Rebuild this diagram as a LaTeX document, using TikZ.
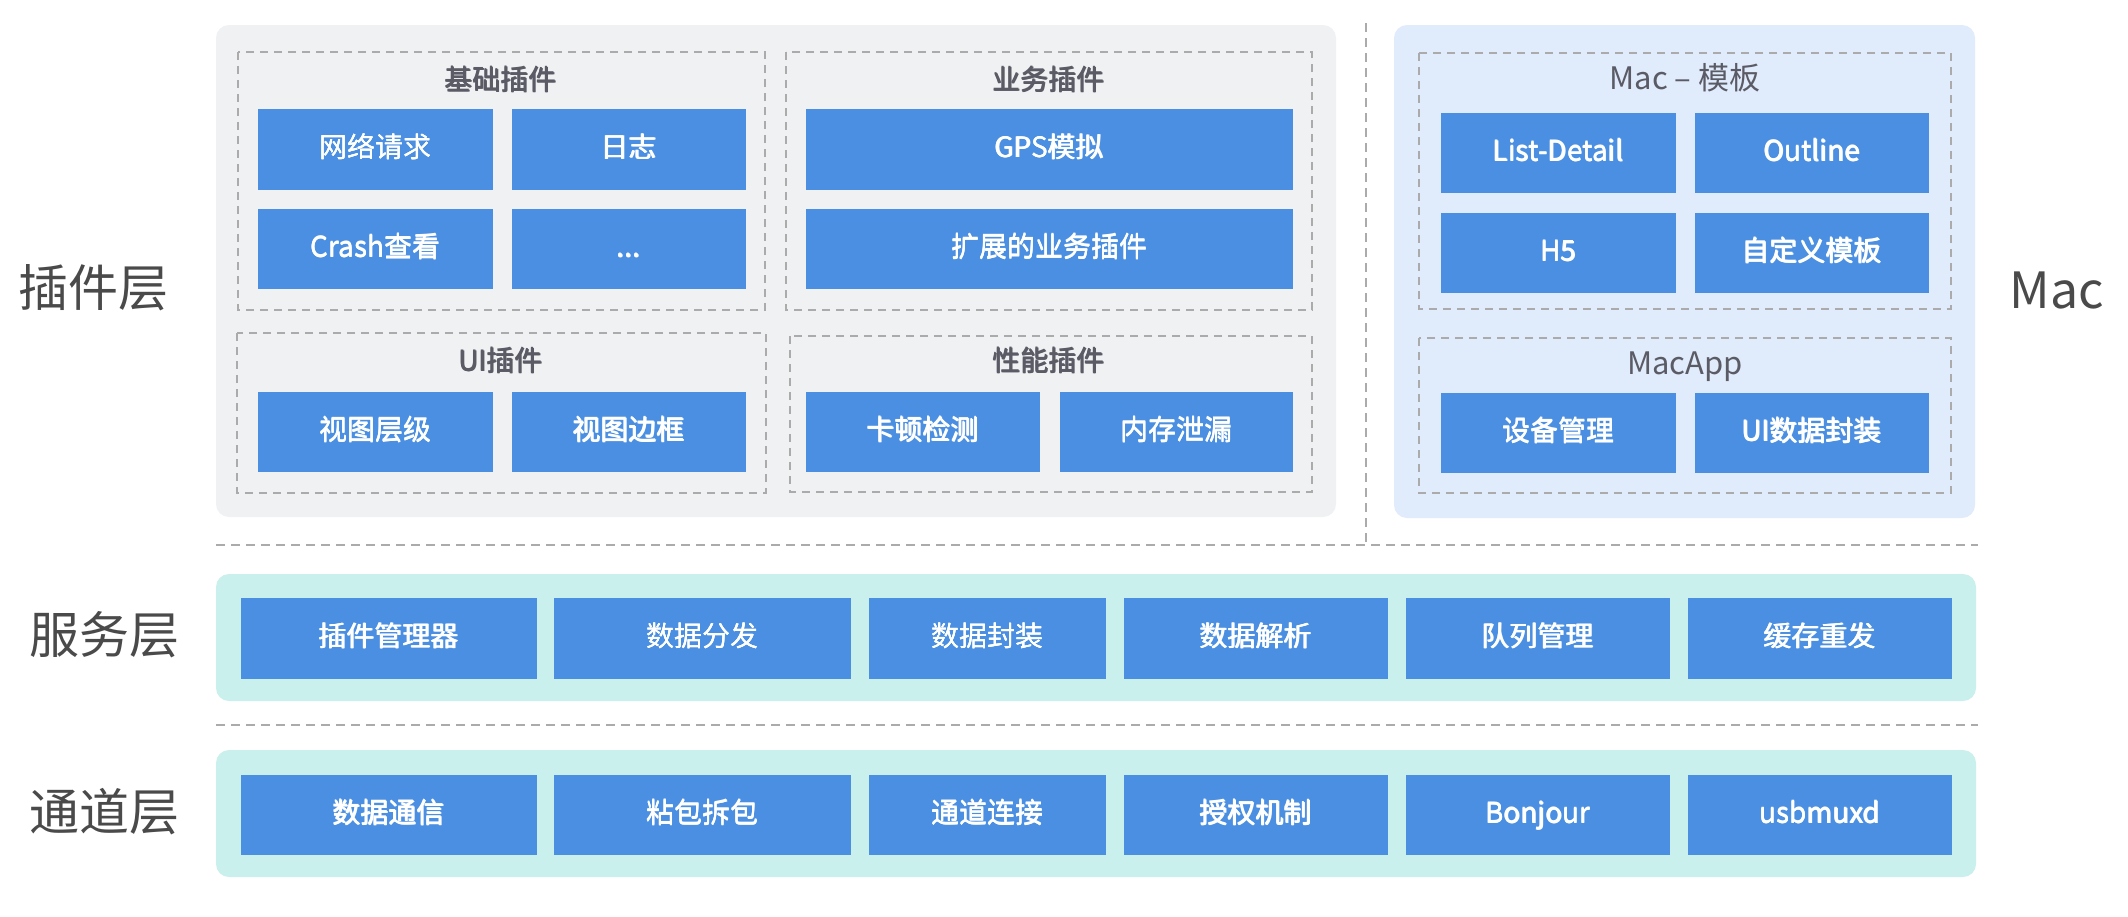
\documentclass[tikz,border=0pt]{standalone}
\usepackage{fontspec}
\setmainfont{Noto Sans CJK SC}
\definecolor{boxblue}{HTML}{4A8FE1}
\definecolor{graypanel}{HTML}{F0F1F3}
\definecolor{bluepanel}{HTML}{E0EBFB}
\definecolor{cyanpanel}{HTML}{C9F0EC}
\definecolor{titlegray}{HTML}{5B5B66}
\definecolor{labelgray}{HTML}{4A4A4A}
\definecolor{dashgray}{HTML}{ABABAB}
\newcommand\fb[1]{\rlap{#1}\rlap{\raisebox{0.4pt}{#1}}\kern0.7pt#1}
\tikzset{
  bluebox/.style={fill=boxblue, draw=none, inner sep=0pt, outer sep=0pt, text=white, text height=21pt, text depth=5pt, font=\fontsize{28}{32}\selectfont},
  grouptitle/.style={text=titlegray, inner sep=0pt, text height=21pt, text depth=5pt, font=\fontsize{28}{32}\selectfont},
  mactitle/.style={text=titlegray, inner sep=0pt, text height=23pt, text depth=6pt, font=\fontsize{31}{36}\selectfont},
  layerlabel/.style={text=labelgray, inner sep=0pt, font=\fontsize{50}{56}\selectfont},
  groupbox/.style={draw=dashgray, line width=1.5pt, dash pattern=on 8pt off 6pt},
  sepline/.style={draw=dashgray, line width=2pt, dash pattern=on 9pt off 6pt},
  panelshape/.style={draw=none, rounded corners=13pt},
}
\newcommand\bx[6]{\node[bluebox, minimum width={#4-#2}, minimum height={#5-#3}] (#1) at ({(#2+#4)/2},{(#3+#5)/2}) {\fb{#6}};}
\begin{document}
\begin{tikzpicture}[x=1pt,y=-1pt]
\useasboundingbox[fill=white] (0,0) rectangle (2128,916);
% panels
\fill[graypanel, panelshape] (216,25) rectangle (1336,517);
\fill[bluepanel, panelshape] (1394,25) rectangle (1975,518);
\fill[cyanpanel, panelshape] (216,574) rectangle (1976,701);
\fill[cyanpanel, panelshape] (216,750) rectangle (1976,877);
% separators
\coordinate (vtop) at (1366,23);
\coordinate (vbot) at (1366,545);
\coordinate (h1l) at (216,545);
\coordinate (h1r) at (1978,545);
\coordinate (h2l) at (216,725);
\coordinate (h2r) at (1978,725);
\draw[sepline] (vtop) -- (vbot);
\draw[sepline] (h1l) -- (h1r);
\draw[sepline] (h2l) -- (h2r);
% group boxes
\draw[groupbox] (238,52) rectangle (765,310);
\draw[groupbox] (786,52) rectangle (1312,310);
\draw[groupbox] (237,333) rectangle (766,493);
\draw[groupbox] (790,336) rectangle (1312,492);
\draw[groupbox] (1419,53) rectangle (1951,309);
\draw[groupbox] (1419,338) rectangle (1951,493);
% group titles
\node[grouptitle] (t1) at (501,82) {\fb{基础插件}};
\node[grouptitle] (t2) at (1049,82) {\fb{业务插件}};
\node[grouptitle] (t3) at (501,363) {\fb{UI插件}};
\node[grouptitle] (t4) at (1049,363) {\fb{性能插件}};
\node[mactitle] (t5) at (1685,81) {Mac – 模板};
\node[mactitle] (t6) at (1685,366) {MacApp};
% plugin boxes
\bx{b1}{258}{109}{493}{190}{网络请求}
\bx{b2}{512}{109}{746}{190}{日志}
\bx{b3}{258}{209}{493}{289}{Crash查看}
\bx{b4}{512}{209}{746}{289}{...}
\bx{b5}{806}{109}{1293}{190}{GPS模拟}
\bx{b6}{806}{209}{1293}{289}{扩展的业务插件}
\bx{b7}{258}{392}{493}{472}{视图层级}
\bx{b8}{512}{392}{746}{472}{视图边框}
\bx{b9}{806}{392}{1040}{472}{卡顿检测}
\bx{b10}{1060}{392}{1293}{472}{内存泄漏}
% mac boxes
\bx{m1}{1441}{113}{1676}{193}{List-Detail}
\bx{m2}{1695}{113}{1929}{193}{Outline}
\bx{m3}{1441}{213}{1676}{293}{H5}
\bx{m4}{1695}{213}{1929}{293}{自定义模板}
\bx{m5}{1441}{393}{1676}{473}{设备管理}
\bx{m6}{1695}{393}{1929}{473}{UI数据封装}
% service boxes
\bx{s1}{241}{598}{537}{679}{插件管理器}
\bx{s2}{554}{598}{851}{679}{数据分发}
\bx{s3}{869}{598}{1106}{679}{数据封装}
\bx{s4}{1124}{598}{1388}{679}{数据解析}
\bx{s5}{1406}{598}{1670}{679}{队列管理}
\bx{s6}{1688}{598}{1952}{679}{缓存重发}
% channel boxes
\bx{c1}{241}{775}{537}{855}{数据通信}
\bx{c2}{554}{775}{851}{855}{粘包拆包}
\bx{c3}{869}{775}{1106}{855}{通道连接}
\bx{c4}{1124}{775}{1388}{855}{授权机制}
\bx{c5}{1406}{775}{1670}{855}{Bonjour}
\bx{c6}{1688}{775}{1952}{855}{usbmuxd}
% layer labels
\node[layerlabel] (l1) at (94,288) {插件层};
\node[layerlabel] (l2) at (104,635) {服务层};
\node[layerlabel] (l3) at (104,812) {通道层};
\node[layerlabel] (l4) at (2057,290) {Mac};
\end{tikzpicture}
\end{document}
